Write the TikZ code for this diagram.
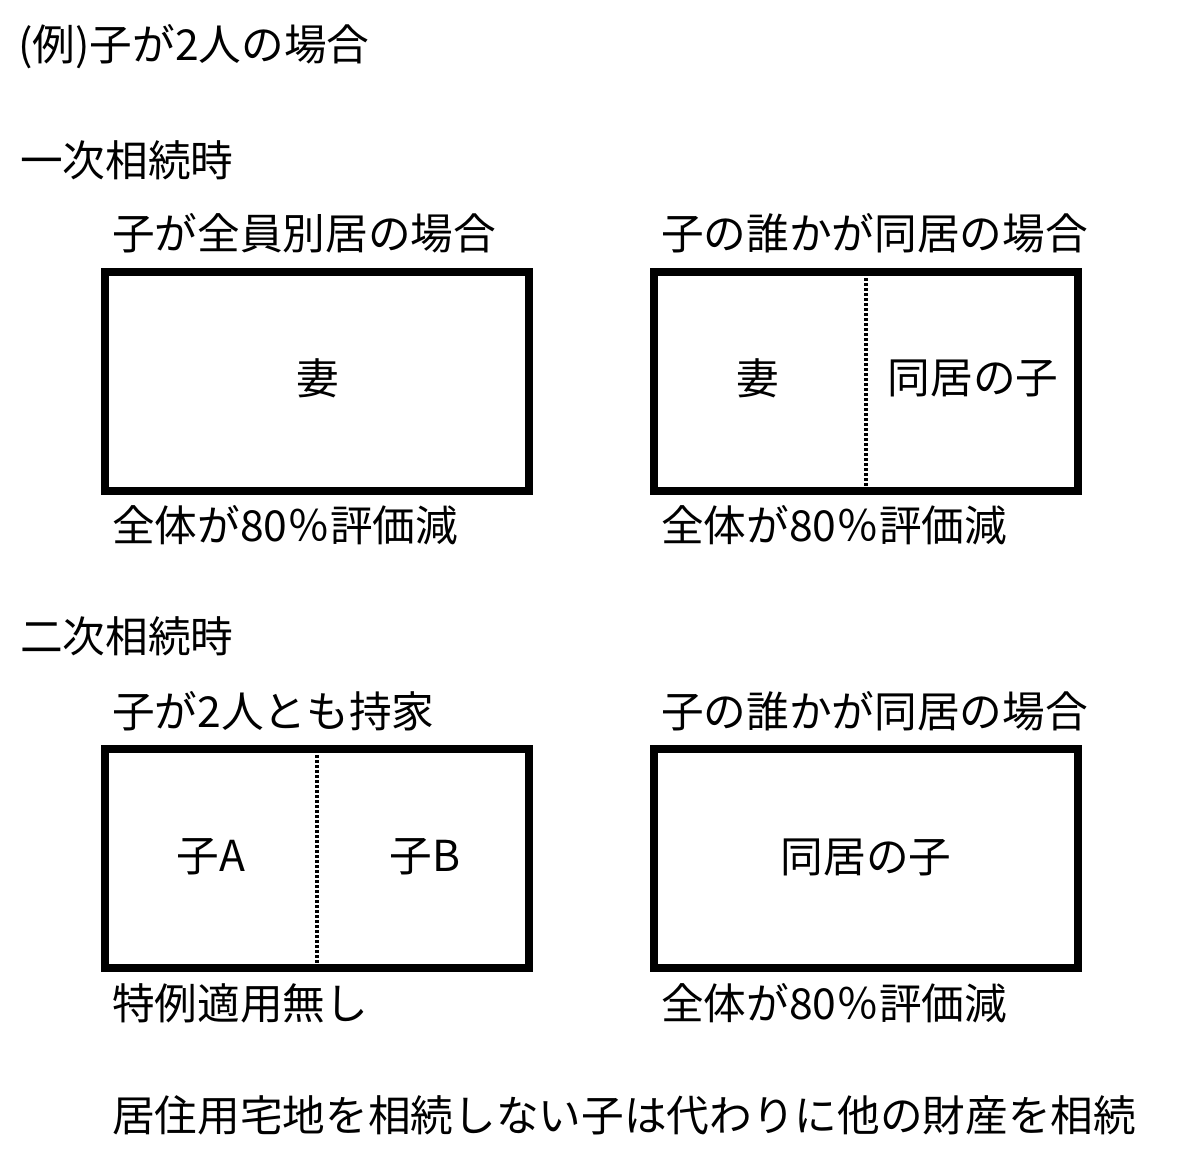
\documentclass[tikz,border=0pt]{standalone}
\usepackage{fontspec}
\setmainfont{Noto Sans CJK JP}
\usetikzlibrary{positioning}

\begin{document}
\begin{tikzpicture}[x = 0.75pt, y = -0.75pt,
  every node/.style = {font = \fontsize{32pt}{38pt}\selectfont, inner sep = 0pt},
  label/.style = {anchor = west},
  plot/.style = {draw, line width = 6pt, minimum width = 318pt, minimum height = 164pt},
  split/.style = {line width = 3pt, dash pattern = on 2.25pt off 1.5pt}]
\useasboundingbox[fill = white] (0,0) rectangle (1181,1169);
\node[label] (title) at (18,47) {(例)子が2人の場合};
\node[label] (first) at (20,160) {一次相続時};
\node[label] (second) at (20,636) {二次相続時};
% first inheritance
\node[plot] (b1) at (317,381.5) {};
\node[plot] (b2) at (865.5,381.5) {};
\draw[split] (b2.north) -- (b2.south);
\node[label] (h1) at (112,233) {子が全員別居の場合};
\node[label] (h2) at (661,233) {子の誰かが同居の場合};
\node (w1) at (318,378) {妻};
\node (w2) at (758,378) {妻};
\node (c2) at (973,378) {同居の子};
\node[label] (f1) at (112,525) {全体が80％評価減};
\node[label] (f2) at (661,525) {全体が80％評価減};
% second inheritance
\node[plot] (b3) at (317,858.5) {};
\node[plot] (b4) at (865.5,858.5) {};
\draw[split] (b3.north) -- (b3.south);
\node[label] (h3) at (112,711) {子が2人とも持家};
\node[label] (h4) at (661,711) {子の誰かが同居の場合};
\node (ca) at (211,857) {子A};
\node (cb) at (425,857) {子B};
\node (c4) at (866,857) {同居の子};
\node[label] (f3) at (112,1003) {特例適用無し};
\node[label] (f4) at (661,1003) {全体が80％評価減};
\node[label] (note) at (112,1115) {居住用宅地を相続しない子は代わりに他の財産を相続};
\end{tikzpicture}
\end{document}
